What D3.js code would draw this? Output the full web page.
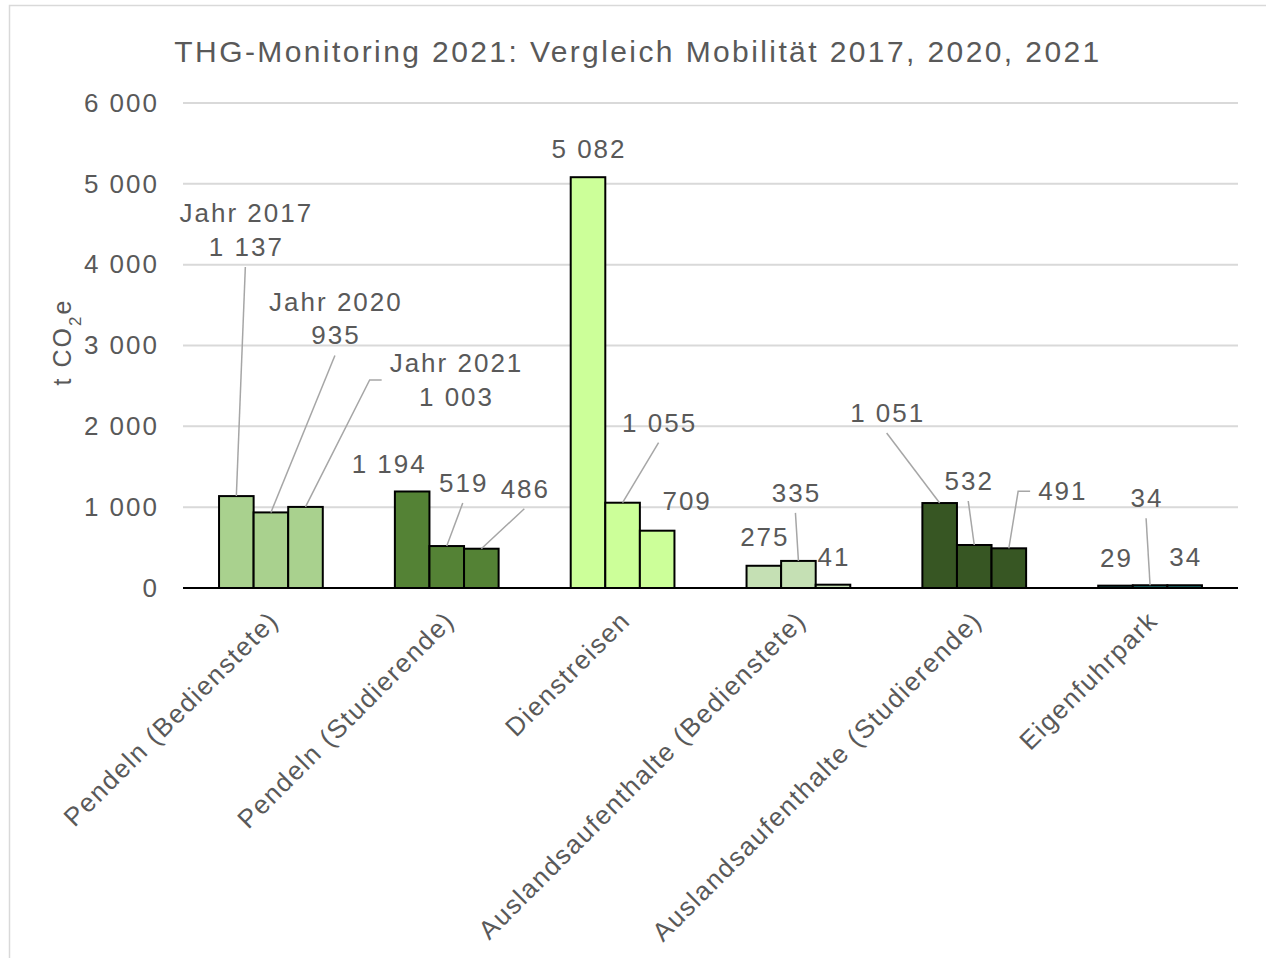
<html>
  <head>
    <meta charset="utf-8"/>
    <style>
      body { margin: 0; background: #fff; }
      text { font-family: "Liberation Sans", Arial, sans-serif; fill: #595959; letter-spacing: 2px; }
    </style>
  </head>
  <body>
    <svg></svg>
  </body>
  <script src="https://d3js.org/d3.v7.min.js"></script>
  <script>
  var categories = ["Pendeln (Bedienstete)", "Pendeln (Studierende)", "Dienstreisen",
                    "Auslandsaufenthalte (Bedienstete)", "Auslandsaufenthalte (Studierende)", "Eigenfuhrpark"];
  var seriesNames = ["Jahr 2017", "Jahr 2020", "Jahr 2021"];
  var values2017 = [1137, 1194, 5082, 275, 1051, 29];
  var values2020 = [935, 519, 1055, 335, 532, 34];
  var values2021 = [1003, 486, 709, 41, 491, 34];
  var yTicks = [0, 1000, 2000, 3000, 4000, 5000, 6000];

  // one colour per category (as in the original sheet)
  var catColors = ["#a9d18e", "#548235", "#ccff99", "#c5e0b4", "#375623", "#1b7070"];

  // label placement, pixels relative to bar top: [dx, dy, leader]
  // leader: 0 none, 1 straight, 2 elbow into label's left side
  var labelPos = [
    [[9, -240, 1], [-24, -18, 0], [0, -19, 0], [0, -20, 0], [-53, -81, 1], [0, -19, 0]],
    [[64, -168, 1], [16, -54, 1], [36, -71, 1], [-3, -59, 1], [-6, -55, 1], [-4, -78, 1]],
    [[150, -101, 2], [43, -51, 1], [29, -21, 0], [0, -19, 0], [53, -48, 2], [0, -19, 0]]
  ];

  var series = [values2017, values2020, values2021];
  var W = 1266, H = 958;
  var margin = {top: 103, right: 28, bottom: 370, left: 183};
  var width = W - margin.left - margin.right;
  var height = H - margin.top - margin.bottom;

  var loc = d3.formatLocale({decimal: ",", thousands: " ", grouping: [3], currency: ["", ""]});
  var fmt = loc.format(",d");

  var svg = d3.select("svg").attr("width", W).attr("height", H);

  svg.append("rect")
    .attr("x", 9.5).attr("y", 5.5).attr("width", W).attr("height", H)
    .attr("fill", "#fff").attr("stroke", "#d9d9d9").attr("stroke-width", 1.5);

  svg.append("text")
    .attr("x", 638).attr("y", 62)
    .attr("text-anchor", "middle")
    .style("font-size", "30px").style("letter-spacing", "2.4px")
    .text("THG-Monitoring 2021: Vergleich Mobilität 2017, 2020, 2021");

  var chart = svg.append("g")
    .attr("transform", "translate(" + margin.left + "," + margin.top + ")");

  var y = d3.scaleLinear().domain([0, 6000]).range([height, 0]);
  var x = d3.scaleBand().domain(categories).range([0, width])
    .paddingInner(0.41).paddingOuter(0.205);
  var xs = d3.scaleBand().domain(d3.range(3)).range([0, x.bandwidth()]);

  // gridlines
  chart.append("g").selectAll("line")
    .data(yTicks.slice(1))
    .enter().append("line")
    .attr("x1", 0).attr("x2", width)
    .attr("y1", function(d) { return y(d); })
    .attr("y2", function(d) { return y(d); })
    .attr("stroke", "#d9d9d9").attr("stroke-width", 2);

  // y axis
  var yAxis = chart.append("g")
    .call(d3.axisLeft(y).tickValues(yTicks).tickFormat(fmt).tickSize(0).tickPadding(24));
  yAxis.select(".domain").remove();
  yAxis.selectAll("text").style("font-size", "26px").attr("fill", "#595959")
    .style("font-family", "Liberation Sans, Arial, sans-serif");

  var yt = svg.append("text")
    .attr("transform", "translate(71,342) rotate(-90)")
    .attr("text-anchor", "middle")
    .style("font-size", "25px");
  yt.append("tspan").text("t CO");
  yt.append("tspan").attr("baseline-shift", "sub").style("font-size", "17px").text("2");
  yt.append("tspan").text("e");

  // bars
  var groups = chart.selectAll(".grp")
    .data(categories)
    .enter().append("g")
    .attr("class", "grp")
    .attr("transform", function(d) { return "translate(" + x(d) + ",0)"; });

  groups.each(function(c, ci) {
    d3.select(this).selectAll("rect")
      .data(series.map(function(s, si) { return {si: si, v: s[ci]}; }))
      .enter().append("rect")
      .attr("x", function(d) { return xs(d.si); })
      .attr("width", xs.bandwidth())
      .attr("y", function(d) { return y(d.v); })
      .attr("height", function(d) { return height - y(d.v); })
      .attr("fill", catColors[ci])
      .attr("stroke", "#000").attr("stroke-width", 2);
  });

  // x axis line
  chart.append("line")
    .attr("x1", 0).attr("x2", width).attr("y1", height).attr("y2", height)
    .attr("stroke", "#000").attr("stroke-width", 2);

  // category labels
  var xAxis = chart.append("g")
    .attr("transform", "translate(0," + height + ")")
    .call(d3.axisBottom(x).tickSize(0).tickPadding(0));
  xAxis.select(".domain").remove();
  xAxis.selectAll("text")
    .style("font-size", "26px").attr("fill", "#595959")
    .style("letter-spacing", "1.6px")
    .style("font-family", "Liberation Sans, Arial, sans-serif")
    .attr("text-anchor", "end")
    .attr("y", 0).attr("dy", "0.72em")
    .attr("transform", "translate(-4,21) rotate(-45)");

  // data labels with leader lines
  var labels = chart.append("g");
  series.forEach(function(s, si) {
    s.forEach(function(v, ci) {
      var bx = x(categories[ci]) + xs(si) + xs.bandwidth() / 2;
      var by = y(v);
      var p = labelPos[si][ci];
      var lx = bx + p[0], ly = by + p[1];
      var withName = ci === 0;
      var t = labels.append("text")
        .attr("x", lx + 1).attr("y", ly)
        .attr("text-anchor", "middle")
        .style("font-size", "26px");
      if (withName) {
        t.append("tspan").attr("x", lx + 1).attr("dy", "-1.3em").text(seriesNames[si]);
        t.append("tspan").attr("x", lx + 1).attr("dy", "1.3em").text(fmt(v));
      } else {
        t.text(fmt(v));
      }
      if (p[2] === 1) {
        labels.append("line")
          .attr("x1", bx).attr("y1", by)
          .attr("x2", lx).attr("y2", ly + 11)
          .attr("stroke", "#a6a6a6").attr("stroke-width", 1.5);
      } else if (p[2] === 2) {
        var bb = t.node().getBBox();
        var ex = bb.x - 8, ey = bb.y + bb.height / 2;
        labels.append("polyline")
          .attr("points", [[bx, by], [ex - 12, ey], [ex, ey]].join(" "))
          .attr("fill", "none")
          .attr("stroke", "#a6a6a6").attr("stroke-width", 1.5);
      }
    });
  });
  </script>
</html>
